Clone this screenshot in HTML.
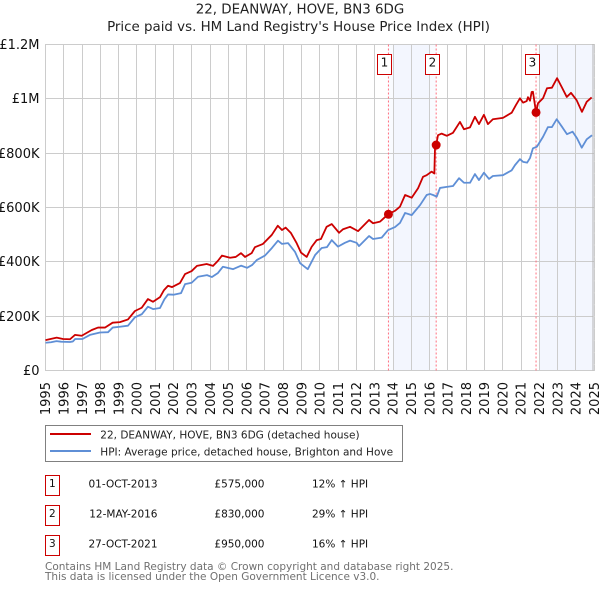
<!DOCTYPE html>
<html lang="en">
<head>
<meta charset="utf-8">
<title>22, DEANWAY, HOVE, BN3 6DG</title>
<style>
html,body{margin:0;padding:0;background:#fff;}
body{width:600px;height:590px;overflow:hidden;}
svg{display:block;font-family:"DejaVu Sans","Liberation Sans",sans-serif;}
</style>
</head>
<body>
<svg id="chart" xmlns="http://www.w3.org/2000/svg" width="600" height="590" viewBox="0 0 600 590">
  <rect x="0" y="0" width="600" height="590" fill="#ffffff"/>
  <text x="300" y="13.5" font-size="13.4" text-anchor="middle" fill="#222">22, DEANWAY, HOVE, BN3 6DG</text>
  <text x="298.5" y="31" font-size="13.4" text-anchor="middle" fill="#222">Price paid vs. HM Land Registry's House Price Index (HPI)</text>

  <g id="bands"></g>
  <g id="grid"></g>
  <g id="xlabels"></g>
  <g id="ylabels"></g>
  <g id="guides"></g>
  <g id="series"></g>
  <g id="markers"></g>

  <g>
    <rect x="45.5" y="425.5" width="357" height="36" fill="#fff" stroke="#808080" stroke-width="1"/>
    <line x1="50" x2="91" y1="434" y2="434" stroke="#cc0000" stroke-width="2"/>
    <text x="100.3" y="438.3" font-size="10.5" fill="#222">22, DEANWAY, HOVE, BN3 6DG (detached house)</text>
    <line x1="50" x2="91" y1="451" y2="451" stroke="#5f8fd6" stroke-width="2"/>
    <text x="100.3" y="455.3" font-size="10.5" fill="#222">HPI: Average price, detached house, Brighton and Hove</text>
  </g>

  <g font-size="10.5" fill="#111">
    <g>
      <rect x="45.5" y="475.5" width="14" height="20" fill="#fff" stroke="#cc0000"/>
      <text x="52.3" y="487" text-anchor="middle">1</text>
      <text x="157.5" y="487.3" text-anchor="end">01-OCT-2013</text>
      <text x="264.5" y="487.3" text-anchor="end">£575,000</text>
      <text x="312" y="487.3">12% ↑ HPI</text>
    </g>
    <g>
      <rect x="45.5" y="505.5" width="14" height="20" fill="#fff" stroke="#cc0000"/>
      <text x="52.3" y="517" text-anchor="middle">2</text>
      <text x="157.5" y="517.3" text-anchor="end">12-MAY-2016</text>
      <text x="264.5" y="517.3" text-anchor="end">£830,000</text>
      <text x="312" y="517.3">29% ↑ HPI</text>
    </g>
    <g>
      <rect x="45.5" y="535.5" width="14" height="20" fill="#fff" stroke="#cc0000"/>
      <text x="52.3" y="547" text-anchor="middle">3</text>
      <text x="157.5" y="547.3" text-anchor="end">27-OCT-2021</text>
      <text x="264.5" y="547.3" text-anchor="end">£950,000</text>
      <text x="312" y="547.3">16% ↑ HPI</text>
    </g>
  </g>

  <text x="45" y="570" font-size="10.5" fill="#707070">Contains HM Land Registry data © Crown copyright and database right 2025.</text>
  <text x="45" y="580" font-size="10.5" fill="#707070">This data is licensed under the Open Government Licence v3.0.</text>
</svg>

<script>
const yearTicks = [1995,1996,1997,1998,1999,2000,2001,2002,2003,2004,2005,2006,2007,2008,2009,2010,2011,2012,2013,2014,2015,2016,2017,2018,2019,2020,2021,2022,2023,2024,2025];
const valueTicks = [0,200,400,600,800,1000,1200];
const valueTickLabels = ["£0","£200K","£400K","£600K","£800K","£1M","£1.2M"];

const saleNumbers = ["1","2","3"];
const saleDates = [2013.75,2016.36,2021.82];
const salePrices = [575,830,950];

const hpiDates = [1995.0,1995.3,1995.6,1995.85,1996.34,1996.5,1996.62,1997.02,1997.43,1997.98,1998.42,1998.67,1999.07,1999.51,1999.89,2000.26,2000.6,2000.88,2001.26,2001.5,2001.7,2002.0,2002.41,2002.63,2002.99,2003.34,2003.83,2004.1,2004.43,2004.7,2005.25,2005.69,2006.02,2006.29,2006.56,2007.0,2007.38,2007.71,2007.93,2008.26,2008.64,2008.92,2009.34,2009.74,2010.1,2010.39,2010.65,2010.99,2011.37,2011.65,2012.01,2012.14,2012.69,2012.91,2013.38,2013.73,2014.11,2014.38,2014.66,2015.02,2015.48,2015.84,2016.02,2016.19,2016.39,2016.57,2016.94,2017.28,2017.61,2017.88,2018.21,2018.48,2018.7,2018.97,2019.25,2019.46,2020.01,2020.49,2020.67,2020.94,2021.11,2021.33,2021.49,2021.65,2021.87,2022.2,2022.47,2022.69,2022.95,2023.24,2023.51,2023.82,2024.06,2024.32,2024.59,2024.88];
const hpiValues = [102,104,108,106,105,107,116,116,131,140,141,158,161,165,196,207,235,226,230,262,280,279,285,318,323,345,351,344,359,382,373,386,378,388,407,423,451,478,466,469,437,395,373,425,451,454,480,456,470,478,470,458,495,484,489,517,528,543,580,572,609,646,650,646,640,672,676,679,708,691,691,723,701,728,705,716,719,737,756,778,768,765,782,818,824,860,896,896,925,897,870,879,855,820,851,866];

const priceDates = [1995.0,1995.61,1995.96,1996.34,1996.61,1996.98,1997.53,1997.87,1998.25,1998.67,1999.07,1999.51,1999.89,2000.26,2000.6,2000.88,2001.26,2001.48,2001.7,2001.92,2002.35,2002.63,2002.99,2003.28,2003.81,2004.16,2004.43,2004.65,2005.09,2005.4,2005.69,2005.91,2006.27,2006.45,2006.89,2007.37,2007.7,2007.93,2008.13,2008.42,2008.73,2008.97,2009.28,2009.55,2009.83,2010.06,2010.37,2010.65,2011.05,2011.27,2011.65,2012.09,2012.69,2012.91,2013.29,2013.73,2014.11,2014.38,2014.66,2015.02,2015.37,2015.64,2015.84,2016.11,2016.26,2016.3,2016.36,2016.46,2016.66,2016.94,2017.28,2017.66,2017.88,2018.21,2018.48,2018.7,2018.97,2019.19,2019.46,2020.01,2020.49,2020.72,2020.94,2021.11,2021.31,2021.38,2021.49,2021.58,2021.65,2021.82,2021.93,2022.2,2022.42,2022.69,2022.97,2023.22,2023.5,2023.73,2024.04,2024.33,2024.59,2024.86];
const priceValues = [112,121,116,115,131,128,149,158,158,176,178,188,219,231,263,253,270,296,312,307,322,355,366,385,392,385,404,423,415,418,432,418,432,454,466,499,533,517,526,506,469,434,418,455,480,484,529,539,507,520,529,513,554,542,548,575,588,603,646,636,671,713,719,732,725,830,830,866,872,864,875,915,888,895,934,907,941,907,925,930,949,977,1002,986,992,1006,993,1025,1026,950,984,1002,1039,1041,1076,1044,1007,1022,995,952,989,1005];

const SVGNS = 'http://www.w3.org/2000/svg';
function xScale(year){ return 45.5 + (year - 1995) * 18.29; }
function yScale(value){ return 370.5 - value * (326 / 1200); }
function snap(p){ return Math.floor(p) + 0.5; }
function make(tag, attrs, parent){
  const el = document.createElementNS(SVGNS, tag);
  for (const k in attrs) el.setAttribute(k, attrs[k]);
  parent.appendChild(el);
  return el;
}

const bandsG = document.getElementById('bands');
const gridG = document.getElementById('grid');
const xlabelsG = document.getElementById('xlabels');
const ylabelsG = document.getElementById('ylabels');
const guidesG = document.getElementById('guides');
const seriesG = document.getElementById('series');
const markersG = document.getElementById('markers');

// Shaded regions: soft outer band, stronger whole-year core
const bandTop = yScale(1200), bandH = yScale(0) - yScale(1200);
const b1o = make('rect', {x:xScale(saleDates[0]), y:bandTop, width:xScale(saleDates[1])-xScale(saleDates[0]), height:bandH, fill:'#f9fbff'}, bandsG);


const b1 = make('rect', {x:xScale(2014), y:bandTop, width:xScale(2016)-xScale(2014), height:bandH, fill:'#f3f6fe'}, bandsG);


const b2 = make('rect', {x:xScale(2022), y:bandTop, width:xScale(2025)-xScale(2022), height:bandH, fill:'#f3f6fe'}, bandsG);



yearTicks.forEach(function(yr){
  const px = snap(xScale(yr));
  const line = make('line', {x1:px, x2:px, y1:44, y2:371, stroke:'#cccccc', 'stroke-width':1}, gridG);
  
  
  const ty = 382;
  const label = make('text', {x:xScale(yr)+4.7, y:ty, transform:'rotate(-90 '+(xScale(yr)+4.7)+' '+ty+')', 'font-size':13, 'text-anchor':'end', fill:'#111'}, xlabelsG);
  label.textContent = String(yr);
  
  
});

valueTicks.forEach(function(v, i){
  const py = snap(yScale(v));
  const line = make('line', {x1:45, x2:594.5, y1:py, y2:py, stroke:'#cccccc', 'stroke-width':1}, gridG);
  
  
  const label = make('text', {x:39.5, y:py+4.7, 'font-size':13, 'text-anchor':'end', fill:'#111'}, ylabelsG);
  label.textContent = valueTickLabels[i];
  
  
});

const edge = make('line', {x1:593, x2:593, y1:44, y2:370.5, stroke:'#b4b4b4', 'stroke-width':1}, gridG);


for (let v = 22; v < 1200; v += 44) {
  const tick = make('line', {x1:593, x2:595, y1:yScale(v), y2:yScale(v), stroke:'#d8d8d8', 'stroke-width':1}, gridG);
  
  
}

saleDates.forEach(function(d){
  const px = xScale(d);
  const g = make('line', {x1:px, x2:px, y1:44.5, y2:370.5, stroke:'#ff6f7f', 'stroke-width':1, 'stroke-dasharray':'2 2'}, guidesG);
  
  
});

function linePath(dates, values){
  return dates.map(function(d, i){
    return (i ? 'L' : 'M') + xScale(d).toFixed(2) + ' ' + yScale(values[i]).toFixed(2);
  }).join('');
}
const hpiLine = make('path', {d:linePath(hpiDates, hpiValues), fill:'none', stroke:'#5f8fd6', 'stroke-width':1.8, 'stroke-linejoin':'round'}, seriesG);


const priceLine = make('path', {d:linePath(priceDates, priceValues), fill:'none', stroke:'#cc0000', 'stroke-width':1.8, 'stroke-linejoin':'round'}, seriesG);



saleDates.forEach(function(d, i){
  const px = xScale(d), py = yScale(salePrices[i]);
  const dot = make('circle', {cx:px, cy:py, r:4.5, fill:'#cc0000'}, markersG);
  
  
  const bx = Math.floor(px - 10.5) + 0.5;
  const box = make('rect', {x:bx, y:54.5, width:14, height:20, fill:'#ffffff', stroke:'#cc0000', 'stroke-width':1}, markersG);
  
  
  const num = make('text', {x:bx+7, y:66.5, 'font-size':12, 'text-anchor':'middle', fill:'#111'}, markersG);
  num.textContent = saleNumbers[i];
  
  
});
</script>
</body>
</html>
